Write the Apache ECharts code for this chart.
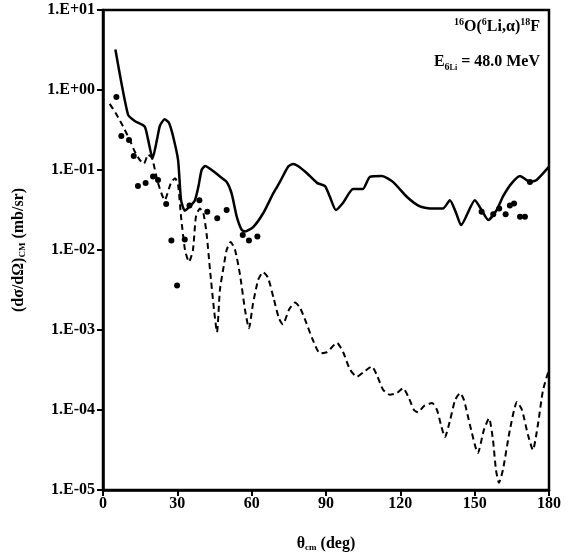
<!DOCTYPE html>
<html>
<head>
<meta charset="utf-8">
<script src="https://cdn.jsdelivr.net/npm/echarts@6/dist/echarts.min.js"></script>
<style>
html,body{margin:0;padding:0;background:#fff;}
#main{width:568px;height:558px;}
</style>
</head>
<body>
<div id="main"></div>
<script>
// solid curve
var solidTheta = [5.0, 10.1, 12.8, 16.8, 18.2, 20.0, 21.8, 23.0, 24.9, 26.6, 28.2, 30.3, 31.5, 33.0, 35.0, 37.1, 38.5, 39.8, 41.2, 43.9, 47.2, 49.9, 51.9, 54.0, 56.0, 57.3, 60.7, 64.7, 68.7, 71.4, 74.7, 76.7, 78.7, 82.3, 86.4, 89.6, 91.6, 94.0, 96.9, 100.9, 104.9, 107.7, 112.6, 117.0, 122.7, 127.9, 132.0, 137.2, 140.0, 142.5, 144.5, 150.1, 152.8, 155.5, 158.9, 161.5, 164.9, 168.3, 172.3, 175.0, 180.0];
var solidVal = [3.2, 0.49, 0.41, 0.35, 0.24, 0.14, 0.24, 0.36, 0.43, 0.39, 0.27, 0.133, 0.042, 0.031, 0.035, 0.042, 0.062, 0.10, 0.112, 0.10, 0.083, 0.071, 0.051, 0.026, 0.0178, 0.017, 0.0195, 0.029, 0.051, 0.071, 0.11, 0.119, 0.112, 0.091, 0.069, 0.063, 0.046, 0.0316, 0.039, 0.058, 0.058, 0.082, 0.084, 0.071, 0.046, 0.035, 0.033, 0.033, 0.042, 0.029, 0.0205, 0.042, 0.0316, 0.0237, 0.0316, 0.047, 0.068, 0.084, 0.071, 0.075, 0.11];

// dashed curve
var dashTheta = [2.7, 5.2, 8.1, 10.8, 12.9, 14.9, 16.5, 18.2, 19.8, 22.2, 24.9, 27.4, 29.1, 30.3, 31.5, 33.1, 34.7, 36.3, 37.5, 39.1, 40.5, 41.8, 43.2, 44.8, 46.0, 47.2, 48.8, 49.9, 51.5, 53.3, 55.3, 57.3, 58.9, 60.5, 62.6, 64.6, 66.6, 69.0, 71.0, 72.6, 75.1, 77.5, 79.5, 81.9, 84.7, 87.6, 90.4, 94.4, 96.9, 99.7, 102.5, 105.3, 108.5, 110.6, 113.0, 115.8, 118.6, 121.1, 123.5, 125.5, 127.1, 129.5, 132.8, 134.8, 136.4, 138.0, 140.1, 142.1, 144.1, 145.7, 148.1, 151.3, 153.7, 155.8, 157.4, 158.6, 159.8, 161.4, 164.2, 167.1, 169.1, 171.5, 173.5, 175.5, 177.6, 180.0];
var dashVal = [0.67, 0.51, 0.35, 0.237, 0.168, 0.133, 0.12, 0.155, 0.14, 0.069, 0.042, 0.069, 0.079, 0.065, 0.026, 0.01, 0.0071, 0.01, 0.026, 0.033, 0.029, 0.016, 0.0056, 0.0018, 0.00094, 0.0032, 0.0065, 0.01, 0.0126, 0.01, 0.0049, 0.0018, 0.00105, 0.0021, 0.0042, 0.0053, 0.0045, 0.0024, 0.0014, 0.00118, 0.0018, 0.0022, 0.0019, 0.00126, 0.00075, 0.00051, 0.00053, 0.00069, 0.00053, 0.00032, 0.00026, 0.0003, 0.00035, 0.00027, 0.00018, 0.000155, 0.000163, 0.000187, 0.00014, 0.0001, 0.000094, 0.000112, 0.000122, 0.0001, 0.000065, 0.000046, 0.000075, 0.000133, 0.000163, 0.000133, 0.000065, 0.000029, 0.000056, 0.000079, 0.000042, 0.0000178, 0.0000123, 0.0000178, 0.000056, 0.000126, 0.0001, 0.000049, 0.0000316, 0.000065, 0.000178, 0.00032];

// experimental points
var expTheta = [5.4, 7.4, 10.5, 12.4, 14.1, 17.2, 20.2, 22.2, 25.5, 27.6, 29.9, 33.0, 34.9, 38.9, 42.1, 46.1, 49.9, 56.4, 58.9, 62.3, 152.8, 157.5, 159.9, 162.5, 164.2, 165.9, 168.3, 170.3, 172.3];
var expVal = [0.82, 0.266, 0.237, 0.15, 0.063, 0.069, 0.083, 0.075, 0.0376, 0.0131, 0.0036, 0.0135, 0.036, 0.042, 0.030, 0.025, 0.0316, 0.0154, 0.0131, 0.0147, 0.030, 0.028, 0.033, 0.028, 0.036, 0.038, 0.026, 0.026, 0.071];

var xTicks = [0, 30, 60, 90, 120, 150, 180];

var zip = function (xs, ys) {
    var res = [];
    for (var i = 0; i < xs.length; i++) {
        res.push([xs[i], ys[i]]);
    }
    return res;
};

var fontFamily = '"Liberation Serif", "DejaVu Serif", serif';

var chart = echarts.init(document.getElementById('main'));

var option = {
    animation: false,
    backgroundColor: '#fff',
    grid: {
        left: 103,
        right: 19,
        top: 10,
        bottom: 68,
        show: true,
        borderColor: '#000',
        borderWidth: 2.5
    },
    xAxis: {
        type: 'value',
        min: xTicks[0],
        max: xTicks[xTicks.length - 1],
        interval: 30,
        name: 'θ{sub|cm} (deg)',
        nameLocation: 'middle',
        nameGap: 45,
        nameTextStyle: {
            fontFamily: fontFamily,
            fontWeight: 'bold',
            fontSize: 16,
            color: '#000',
            rich: {
                sub: {fontFamily: fontFamily, fontWeight: 'bold', fontSize: 9, verticalAlign: 'bottom', padding: [8, 0, 0, 0]}
            }
        },
        axisLine: {lineStyle: {color: '#000', width: 2.5}},
        axisTick: {length: 6, lineStyle: {color: '#000', width: 2}},
        axisLabel: {
            color: '#000',
            fontFamily: fontFamily,
            fontWeight: 'bold',
            fontSize: 16,
            margin: 6
        },
        splitLine: {show: false}
    },
    yAxis: {
        type: 'log',
        logBase: 10,
        min: 1e-5,
        max: 10,
        name: '(dσ/dΩ){sub|CM} (mb/sr)',
        nameLocation: 'middle',
        nameRotate: 90,
        nameGap: 76,
        nameTextStyle: {
            fontFamily: fontFamily,
            fontWeight: 'bold',
            fontSize: 16,
            color: '#000',
            rich: {
                sub: {fontFamily: fontFamily, fontWeight: 'bold', fontSize: 9, verticalAlign: 'bottom', padding: [8, 0, 0, 0]}
            }
        },
        axisLine: {lineStyle: {color: '#000', width: 2.5}},
        axisTick: {length: 6, lineStyle: {color: '#000', width: 2}},
        axisLabel: {
            color: '#000',
            fontFamily: fontFamily,
            fontWeight: 'bold',
            fontSize: 16,
            margin: 8,
            formatter: function (v) {
                var e = Math.round(Math.log10(v));
                var a = Math.abs(e);
                return '1.E' + (e < 0 ? '-' : '+') + (a < 10 ? '0' : '') + a;
            }
        },
        splitLine: {show: false},
        minorTick: {show: false}
    },
    graphic: [
        {
            type: 'text',
            right: 28,
            top: 17,
            style: {
                text: '{sup|16}{b|O(}{sup|6}{b|Li,α)}{sup|18}{b|F}',
                fill: '#000',
                rich: {
                    b: {fontFamily: fontFamily, fontWeight: 'bold', fontSize: 16, lineHeight: 20, fill: '#000'},
                    sup: {fontFamily: fontFamily, fontWeight: 'bold', fontSize: 10, verticalAlign: 'top', padding: [0, 0, 8, 0], fill: '#000'}
                }
            }
        },
        {
            type: 'text',
            right: 28,
            top: 54,
            style: {
                text: '{b|E}{sub|6}{sub2|Li}{b| = 48.0 MeV}',
                fill: '#000',
                rich: {
                    b: {fontFamily: fontFamily, fontWeight: 'bold', fontSize: 16, lineHeight: 20, fill: '#000'},
                    sub: {fontFamily: fontFamily, fontWeight: 'bold', fontSize: 10, verticalAlign: 'bottom', padding: [6, 0, 0, 0], fill: '#000'},
                    sub2: {fontFamily: fontFamily, fontWeight: 'bold', fontSize: 8, verticalAlign: 'bottom', padding: [10, 0, 0, 0], fill: '#000'}
                }
            }
        }
    ],
    series: [
        {
            name: 'solid',
            type: 'line',
            data: zip(solidTheta, solidVal),
            smooth: 0.2,
            showSymbol: false,
            lineStyle: {color: '#000', width: 2.5}
        },
        {
            name: 'dashed',
            type: 'line',
            data: zip(dashTheta, dashVal),
            smooth: 0.2,
            showSymbol: false,
            lineStyle: {color: '#000', width: 2, type: [6, 4]}
        },
        {
            name: 'exp',
            type: 'scatter',
            data: zip(expTheta, expVal),
            symbol: 'circle',
            symbolSize: 6,
            itemStyle: {color: '#000', opacity: 1},
            z: 5
        }
    ]
};

chart.setOption(option);
</script>
</body>
</html>
